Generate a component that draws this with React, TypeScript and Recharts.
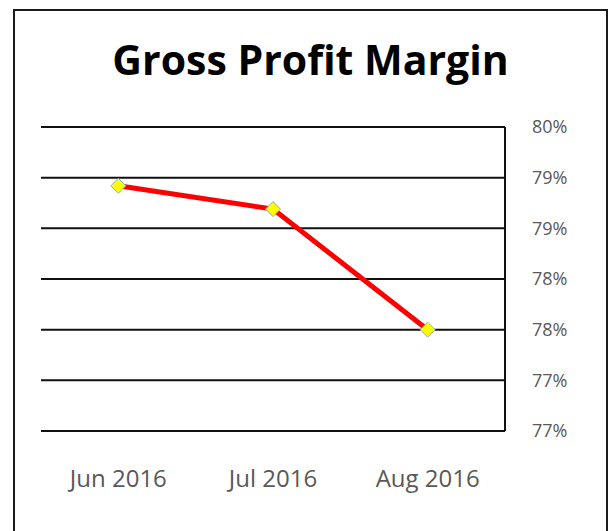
import { ComposedChart, Line, XAxis, YAxis, CartesianGrid } from 'recharts';

const months = ['Jun 2016', 'Jul 2016', 'Aug 2016'];
const grossMargin = [79.42, 79.19, 78.0];
const yTicks = [77, 77.5, 78, 78.5, 79, 79.5, 80];
const yTickLabels = ['77%', '77%', '78%', '78%', '79%', '79%', '80%'];

const data = months.map((month, i) => ({ month, margin: grossMargin[i] }));

const FONT = '"Open Sans", sans-serif';

function Diamond(props: any) {
  const { cx, cy } = props;
  if (cx == null || cy == null) return null;
  const r = 7.5;
  return (
    <polygon
      points={`${cx},${cy - r} ${cx + r},${cy} ${cx},${cy + r} ${cx - r},${cy}`}
      fill="#FFFF00"
      stroke="#8FA8C8"
      strokeWidth={1}
    />
  );
}

export default function App() {
  return (
    <div style={{ position: 'fixed', left: 0, top: 0, width: 609, height: 531, overflow: 'hidden', background: '#fff' }}>
      <div
        style={{
          position: 'absolute',
          left: 13,
          top: 9,
          width: 595,
          height: 600,
          boxSizing: 'border-box',
          borderTop: '2px solid #1a1a1a',
          borderLeft: '2px solid #1a1a1a',
          borderRight: '2px solid #1a1a1a',
        }}
      />
      <svg width={609} height={100} style={{ position: 'absolute', left: 0, top: 0 }}>
        <text x={310.5} y={75} textAnchor="middle" fontFamily={FONT} fontWeight={700} fontSize={41} fill="#000">
          Gross Profit Margin
        </text>
      </svg>
      <div style={{ position: 'absolute', left: 0, top: 0 }}>
        <ComposedChart width={609} height={531} data={data} margin={{ top: 127, left: 41, right: 34, bottom: 40 }}>
          <CartesianGrid horizontal vertical={false} stroke="#111" strokeWidth={2} />
          <XAxis
            dataKey="month"
            scale="band"
            height={60}
            axisLine={false}
            tickLine={false}
            tickSize={0}
            tickMargin={39}
            tick={{ fill: '#595959', fontSize: 24, fontFamily: FONT }}
          />
          <YAxis
            orientation="right"
            width={70}
            domain={[77, 80]}
            ticks={yTicks}
            tickFormatter={(v: number) => yTickLabels[yTicks.indexOf(v)]}
            axisLine={{ stroke: '#111', strokeWidth: 2 }}
            tickLine={false}
            tickSize={0}
            tickMargin={27}
            tick={{ fill: '#595959', fontSize: 18, fontFamily: FONT }}
          />
          <Line
            dataKey="margin"
            type="linear"
            stroke="#FF0000"
            strokeWidth={5}
            dot={<Diamond />}
            activeDot={false}
            isAnimationActive={false}
          />
        </ComposedChart>
      </div>
    </div>
  );
}
